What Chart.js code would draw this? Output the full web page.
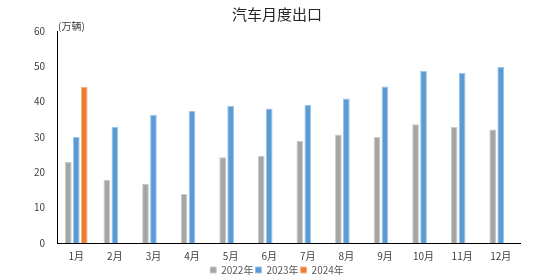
<!DOCTYPE html>
<html>
<head>
<meta charset="utf-8">
<script src="https://cdn.jsdelivr.net/npm/chart.js@4.4.0/dist/chart.umd.min.js"></script>
<style>
  html, body { margin: 0; padding: 0; background: #fff; }
  #wrap { width: 554px; height: 277px; }
</style>
</head>
<body>
<div id="wrap"><canvas id="exportChart"></canvas></div>
<script>
'use strict';

// data
const months = ['1月', '2月', '3月', '4月', '5月', '6月', '7月', '8月', '9月', '10月', '11月', '12月'];
const y2022 = [22.9, 17.8, 16.8, 13.9, 24.3, 24.7, 28.9, 30.7, 30.0, 33.6, 32.8, 32.1];
const y2023 = [30.0, 32.9, 36.3, 37.4, 38.8, 38.1, 39.1, 40.9, 44.3, 48.7, 48.1, 49.8];
const y2024 = [44.2, null, null, null, null, null, null, null, null, null, null, null];
const yTicks = [0, 10, 20, 30, 40, 50, 60];

const grayColor = '#A5A5A5',
  blueColor = '#5B9BD5',
  orangeColor = '#ED7D31',
  labelColor = '#595959',
  fontFamily = '"Noto Sans CJK SC", "Noto Sans", sans-serif';

// unit text above the y axis
const unitLabel = {
  id: 'unitLabel',
  afterDraw(chart) {
    const ctx = chart.ctx;
    const area = chart.chartArea;
    ctx.save();
    ctx.font = '10px ' + fontFamily;
    ctx.fillStyle = '#404040';
    ctx.textAlign = 'left';
    ctx.textBaseline = 'middle';
    ctx.fillText('(万辆)', area.left + 1, area.top - 5);
    ctx.restore();
  }
};

function barSet(label, data, color, edge) {
  return {
    label: label,
    data: data,
    backgroundColor: color,
    borderColor: edge,
    borderWidth: 1,
    categoryPercentage: 0.62,
    barPercentage: 0.84
  };
}

new Chart(document.getElementById('exportChart'), {
  type: 'bar',
  data: {
    labels: months,
    datasets: [
      barSet('2022年', y2022, grayColor, '#C9C9C9'),
      barSet('2023年', y2023, blueColor, '#9DC3E6'),
      barSet('2024年', y2024, orangeColor, '#F4B183')
    ]
  },
  options: {
    responsive: true,
    maintainAspectRatio: false,
    animation: false,
    layout: {
      padding: 0
    },
    plugins: {
      title: {
        display: true,
        text: '汽车月度出口',
        color: '#262626',
        font: { family: fontFamily, size: 15, weight: 'normal' },
        padding: { top: 5, bottom: 8 }
      },
      legend: {
        position: 'bottom',
        maxHeight: 14,
        labels: {
          color: labelColor,
          font: { family: fontFamily, size: 10 },
          boxWidth: 6,
          boxHeight: 6,
          padding: 2,
          useBorderRadius: false
        }
      },
      tooltip: { enabled: false }
    },
    scales: {
      x: {
        afterFit(scale) { scale.height = 20; },
        grid: { display: false, drawTicks: false },
        border: { display: true, color: '#000', width: 1 },
        ticks: {
          color: '#404040',
          font: { family: fontFamily, size: 10 },
          maxRotation: 0,
          padding: 7
        }
      },
      y: {
        min: 0,
        max: 60,
        afterFit(scale) { scale.width = 57; },
        afterBuildTicks(scale) { scale.ticks = yTicks.map(v => ({ value: v })); },
        grid: { display: false },
        border: { display: true, color: '#000', width: 1 },
        ticks: {
          color: '#404040',
          font: { family: fontFamily, size: 10 },
          padding: 4
        }
      },
      // empty spacer on the right so the plot ends where the reference does
      spacer: {
        position: 'right',
        afterFit(scale) { scale.width = 34; },
        grid: { display: false },
        border: { display: false },
        ticks: { display: false }
      }
    }
  },
  plugins: [unitLabel]
});
</script>
</body>
</html>
